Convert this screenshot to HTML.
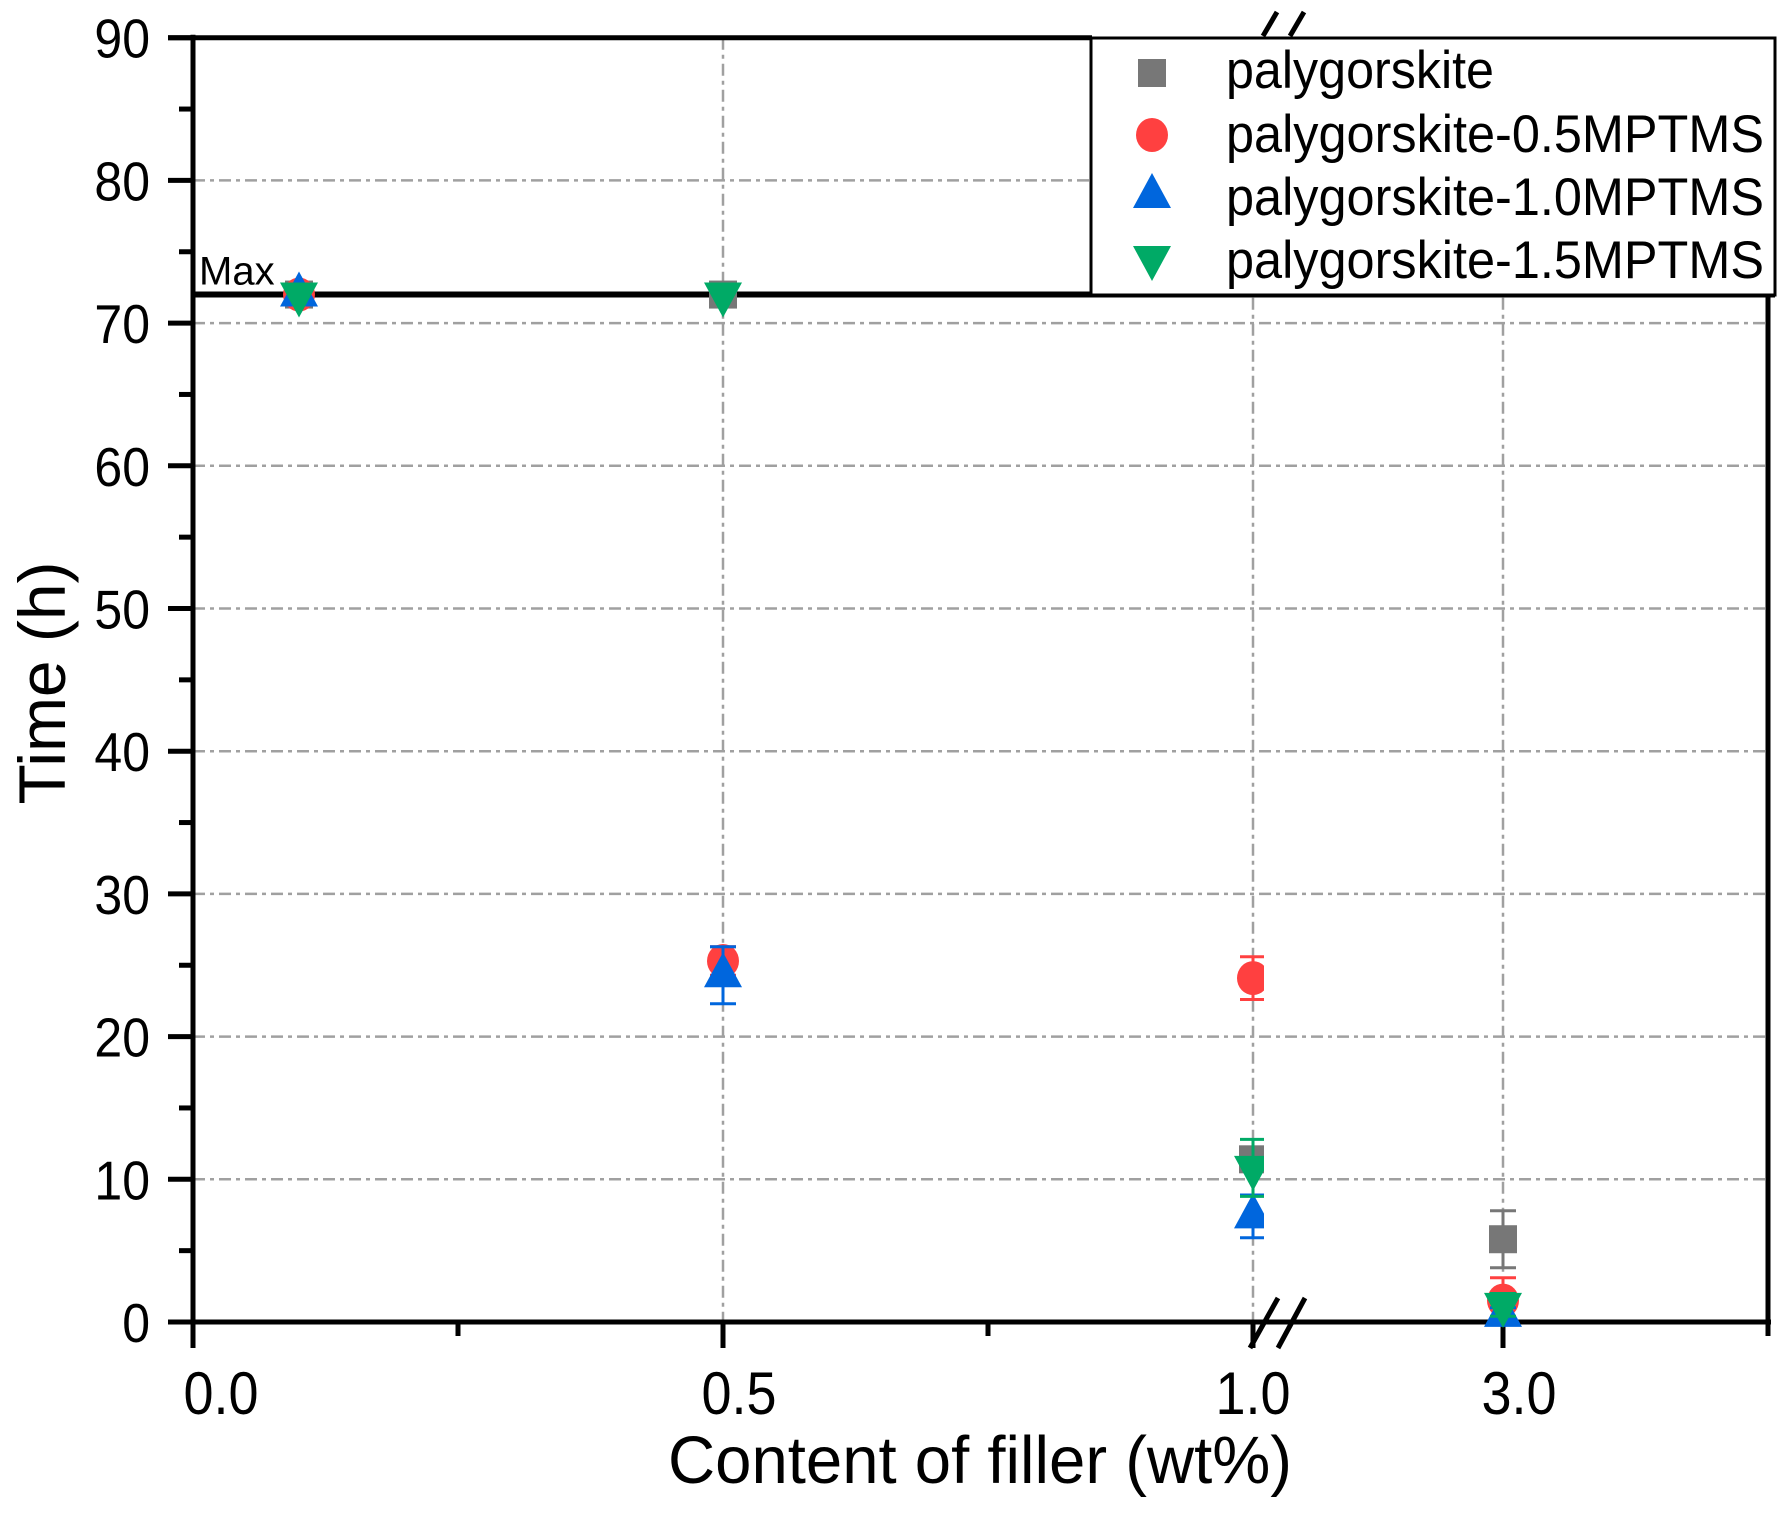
<!DOCTYPE html>
<html><head><meta charset="utf-8"><style>
html,body{margin:0;padding:0;background:#fff;}
svg{display:block;font-family:"Liberation Sans",Arial,sans-serif;}
</style></head><body>
<svg id="chart" width="1790" height="1513" viewBox="0 0 1790 1513" xmlns="http://www.w3.org/2000/svg">
<defs><clipPath id="seg1"><rect x="150" y="0" width="1114" height="1400"/></clipPath></defs>
<g id="grid"></g>
<g id="axes"></g>
<g id="marks"></g>
<g id="legend"></g>
</svg>
<script>
const categories = [0.1, 0.5, 1.0, 3.0];
const seriesNames = ["palygorskite","palygorskite-0.5MPTMS","palygorskite-1.0MPTMS","palygorskite-1.5MPTMS"];
const palyValues = [72, 72, 11.4, 5.8];
const palyErrors = [0, 0, 0, 2.0];
const mp05Values = [72, 25.3, 24.1, 1.5];
const mp05Errors = [0, 1.0, 1.5, 1.6];
const mp10Values = [72, 24.3, 7.4, 0.5];
const mp10Errors = [0, 2.0, 1.5, 0.5];
const mp15Values = [72, 72, 10.8, 1.2];
const mp15Errors = [0, 0, 2.0, 0.8];
const yTicks = [0,10,20,30,40,50,60,70,80,90];
const xTickValues = [0, 0.5, 1.0, 3.0];
const xTickLabels = ["0.0","0.5","1.0","3.0"];
const maxLevel = 72;

const NS="http://www.w3.org/2000/svg";
function el(tag, attrs, parent){const e=document.createElementNS(NS,tag);for(const k in attrs)e.setAttribute(k,attrs[k]);if(parent)parent.appendChild(e);return e;}
function y(v){return 1322 - v*14.27;}
function x(v){return v<=1.0 ? 193 + v*1060 : 1503 + (v-3)*265;}
const L=193,R=1768,B=1322,T=y(90);
const grid=document.getElementById('grid'),axes=document.getElementById('axes'),marks=document.getElementById('marks'),legend=document.getElementById('legend');

yTicks.forEach(t=>{ if(t>0&&t<90){
  const g=el('line',{x1:L,x2:R,y1:y(t),y2:y(t),stroke:'#a0a0a0','stroke-width':2.5,'stroke-dasharray':'12 5 4 5'},grid);
  
  
}});
xTickValues.forEach(t=>{ if(t>0){
  const g=el('line',{x1:x(t),x2:x(t),y1:T,y2:B,stroke:'#a0a0a0','stroke-width':2.5,'stroke-dasharray':'12 5 4 5'},grid);
  
  
}});

let a=el('line',{x1:L,x2:L,y1:T-3,y2:B+3,stroke:'#000','stroke-width':5},axes);


a=el('line',{x1:L-3,x2:R+3,y1:B,y2:B,stroke:'#000','stroke-width':5},axes);


a=el('line',{x1:R,x2:R,y1:y(maxLevel),y2:B,stroke:'#000','stroke-width':5},axes);


a=el('line',{x1:L-25,x2:1092,y1:T,y2:T,stroke:'#000','stroke-width':5},axes);


a=el('line',{x1:L,x2:1775,y1:y(maxLevel),y2:y(maxLevel),stroke:'#000','stroke-width':6},axes);


a=el('text',{x:199,y:y(maxLevel)-10,'font-size':40,fill:'#000'},axes);a.textContent='Max';



yTicks.forEach(t=>{
  const tk=el('line',{x1:L-25,x2:L,y1:y(t),y2:y(t),stroke:'#000','stroke-width':5},axes);
  
  
  const lb=el('text',{x:0,y:0,'font-size':50,'text-anchor':'end',fill:'#000',transform:`translate(150,${y(t)+20}) scale(1,1.1)`},axes);
  lb.textContent=String(t);
  
  
  if(t<90){
    const m=el('line',{x1:L-14,x2:L,y1:y(t+5),y2:y(t+5),stroke:'#000','stroke-width':5},axes);
    
    
  }
});
const xLabelShift=[28,16,0,16];
xTickValues.forEach((t,i)=>{
  const tk=el('line',{x1:x(t),x2:x(t),y1:B,y2:B+26,stroke:'#000','stroke-width':5},axes);
  
  
  const lb=el('text',{x:0,y:0,'font-size':54,'text-anchor':'middle',fill:'#000',transform:`translate(${x(t)+xLabelShift[i]},1414) scale(1,1.12)`},axes);
  lb.textContent=xTickLabels[i];
  
  
});
[0.25,0.75].forEach(t=>{
  const m=el('line',{x1:x(t),x2:x(t),y1:B,y2:B+14,stroke:'#000','stroke-width':5},axes);
  
  
});
a=el('line',{x1:R,x2:R,y1:B,y2:B+14,stroke:'#000','stroke-width':5},axes);


[[1250,1348,1278,1298],[1278,1348,1305,1298],[1263,36,1277,12],[1290,36,1304,12]].forEach(p=>{
  const b=el('line',{x1:p[0],y1:p[1],x2:p[2],y2:p[3],stroke:'#000','stroke-width':5},axes);
  
  
});
a=el('text',{x:0,y:0,'font-size':62,'text-anchor':'middle',fill:'#000',textLength:624,lengthAdjust:'spacingAndGlyphs',transform:'translate(980,1483) scale(1,1.08)'},axes);
a.textContent='Content of filler (wt%)';


a=el('text',{x:0,y:0,'font-size':66,'text-anchor':'middle',fill:'#000',transform:'translate(65,683) rotate(-90)',textLength:243,lengthAdjust:'spacingAndGlyphs'},axes);
a.textContent='Time (h)';



const colors=['#777777','#ff4040','#0066dd','#00aa66'];
function marker(shape,cx,cy,color,parent){
  let m;
  if(shape===0) m=el('rect',{x:cx-14,y:cy-14,width:28,height:28,fill:color},parent);
  else if(shape===1) m=el('ellipse',{cx:cx,cy:cy,rx:16,ry:17,fill:color},parent);
  else if(shape===2) m=el('polygon',{points:`${cx},${cy-23} ${cx+19},${cy+12} ${cx-19},${cy+12}`,fill:color},parent);
  else m=el('polygon',{points:`${cx},${cy+23} ${cx+19},${cy-12} ${cx-19},${cy-12}`,fill:color},parent);
  return m;
}
const allVals=[palyValues,mp05Values,mp10Values,mp15Values];
const allErrs=[palyErrors,mp05Errors,mp10Errors,mp15Errors];
allVals.forEach((vals,s)=>{
  const g=el('g',{},marks);
  
  
  vals.forEach((v,i)=>{
    const cx=x(categories[i]),cy=y(v),e=allErrs[s][i];
    const pg=el('g',categories[i]<=1.0?{'clip-path':'url(#seg1)'}:{},g);
    
    
    if(e>0){
      const eb=el('path',{d:`M${cx},${y(v+e)}V${y(v-e)}M${cx-13},${y(v+e)}H${cx+13}M${cx-13},${y(v-e)}H${cx+13}`,stroke:colors[s],'stroke-width':3,fill:'none'},pg);
      
      
    }
    const m=marker(s,cx,cy,colors[s],pg);
    
    
  });
});

a=el('rect',{x:1091,y:38,width:684,height:257,fill:'#fff',stroke:'#000','stroke-width':3},legend);


const rowY=[73,135,196,258],baseY=[88,152,215,278];
seriesNames.forEach((n,i)=>{
  const g=el('g',{},legend);
  
  
  const m=marker(i,1152,rowY[i],colors[i],g);
  
  
  const t=el('text',{x:0,y:0,'font-size':48,fill:'#000',transform:`translate(1226,${baseY[i]}) scale(1,1.1)`},g);
  t.setAttribute('textLength',i>0?538:268);
  t.setAttribute('lengthAdjust','spacingAndGlyphs');
  t.textContent=n;
  
  
});
</script>
</body></html>
